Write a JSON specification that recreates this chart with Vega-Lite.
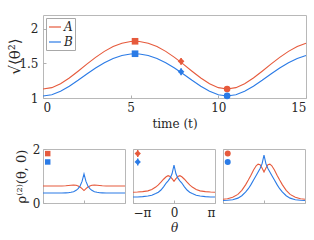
{
  "$schema": "https://vega.github.io/schema/vega-lite/v6.json",
  "background": "white",
  "padding": {"left": 6, "top": 14, "right": 1, "bottom": 2},
  "config": {
    "font": "DejaVu Serif",
    "view": {"stroke": "#b8b8b8", "strokeWidth": 1},
    "axis": {"grid": false, "domain": false, "ticks": true, "tickSize": -3, "tickColor": "#b0b0b0",
      "labelFont": "DejaVu Serif", "labelFontSize": 12, "labelColor": "#262626",
      "titleFont": "DejaVu Serif", "titleFontSize": 12, "titleColor": "#262626", "titleFontWeight": "normal"}
  },
  "datasets": {
    "curves": [
      {"t":0,"A":1.130,"B":1.030},{"t":0.5,"A":1.1498,"B":1.0474},{"t":1,"A":1.2057,"B":1.0965},
      {"t":1.5,"A":1.2884,"B":1.1694},{"t":2,"A":1.3867,"B":1.2561},{"t":2.5,"A":1.4895,"B":1.3470},
      {"t":3,"A":1.5878,"B":1.4340},{"t":3.5,"A":1.6744,"B":1.5108},{"t":4,"A":1.7438,"B":1.5723},
      {"t":4.5,"A":1.7921,"B":1.6152},{"t":5,"A":1.8169,"B":1.6372},{"t":5.25,"A":1.82,"B":1.64},
      {"t":5.5,"A":1.8169,"B":1.6372},{"t":6,"A":1.7921,"B":1.6152},{"t":6.5,"A":1.7438,"B":1.5723},
      {"t":7,"A":1.6744,"B":1.5108},{"t":7.5,"A":1.5878,"B":1.4340},{"t":8,"A":1.4895,"B":1.3470},
      {"t":8.5,"A":1.3867,"B":1.2561},{"t":9,"A":1.2884,"B":1.1694},{"t":9.5,"A":1.2057,"B":1.0965},
      {"t":10,"A":1.1498,"B":1.0474},{"t":10.5,"A":1.130,"B":1.030},{"t":11,"A":1.1498,"B":1.0474},
      {"t":11.5,"A":1.2057,"B":1.0965},{"t":12,"A":1.2884,"B":1.1694},{"t":12.5,"A":1.3867,"B":1.2561},
      {"t":13,"A":1.4895,"B":1.3470},{"t":13.5,"A":1.5878,"B":1.4340},{"t":14,"A":1.6744,"B":1.5108},
      {"t":14.5,"A":1.7438,"B":1.5723},{"t":15,"A":1.7921,"B":1.6152}
    ],
    "markers": [
      {"t":5.25,"s":"A","m":"sq","v":1.82},
      {"t":5.25,"s":"B","m":"sq","v":1.64},
      {"t":7.875,"s":"A","m":"di","v":1.53,"lo":1.48,"hi":1.58},
      {"t":7.875,"s":"B","m":"di","v":1.38,"lo":1.33,"hi":1.43},
      {"t":10.5,"s":"A","m":"ci","v":1.13},
      {"t":10.5,"s":"B","m":"ci","v":1.03}
    ],
    "prof": [
      {"p":1,"x":-3.1416,"A":0.63,"B":0.37},{"p":1,"x":-2.8,"A":0.63,"B":0.37},{"p":1,"x":-2.4,"A":0.63,"B":0.37},
      {"p":1,"x":-2.0,"A":0.63,"B":0.37},{"p":1,"x":-1.7,"A":0.632,"B":0.37},{"p":1,"x":-1.4,"A":0.638,"B":0.375},
      {"p":1,"x":-1.2,"A":0.648,"B":0.38},{"p":1,"x":-1.0,"A":0.66,"B":0.395},{"p":1,"x":-0.8,"A":0.665,"B":0.42},
      {"p":1,"x":-0.6,"A":0.655,"B":0.47},{"p":1,"x":-0.45,"A":0.63,"B":0.53},{"p":1,"x":-0.3,"A":0.59,"B":0.63},
      {"p":1,"x":-0.15,"A":0.53,"B":0.80},{"p":1,"x":0,"A":0.46,"B":1.08},
      {"p":1,"x":0.15,"A":0.53,"B":0.80},{"p":1,"x":0.3,"A":0.59,"B":0.63},{"p":1,"x":0.45,"A":0.63,"B":0.53},
      {"p":1,"x":0.6,"A":0.655,"B":0.47},{"p":1,"x":0.8,"A":0.665,"B":0.42},{"p":1,"x":1.0,"A":0.66,"B":0.395},
      {"p":1,"x":1.2,"A":0.648,"B":0.38},{"p":1,"x":1.4,"A":0.638,"B":0.375},{"p":1,"x":1.7,"A":0.632,"B":0.37},
      {"p":1,"x":2.0,"A":0.63,"B":0.37},{"p":1,"x":2.4,"A":0.63,"B":0.37},{"p":1,"x":2.8,"A":0.63,"B":0.37},
      {"p":1,"x":3.1416,"A":0.63,"B":0.37},

      {"p":2,"x":-3.1416,"A":0.40,"B":0.22},{"p":2,"x":-2.8,"A":0.405,"B":0.225},{"p":2,"x":-2.4,"A":0.42,"B":0.235},
      {"p":2,"x":-2.0,"A":0.45,"B":0.26},{"p":2,"x":-1.7,"A":0.50,"B":0.29},{"p":2,"x":-1.4,"A":0.59,"B":0.35},
      {"p":2,"x":-1.2,"A":0.67,"B":0.40},{"p":2,"x":-1.0,"A":0.77,"B":0.48},{"p":2,"x":-0.8,"A":0.88,"B":0.60},
      {"p":2,"x":-0.6,"A":0.97,"B":0.74},{"p":2,"x":-0.45,"A":1.01,"B":0.82},{"p":2,"x":-0.3,"A":0.98,"B":0.92},
      {"p":2,"x":-0.15,"A":0.90,"B":1.08},{"p":2,"x":0,"A":0.80,"B":1.40},
      {"p":2,"x":0.15,"A":0.90,"B":1.08},{"p":2,"x":0.3,"A":0.98,"B":0.92},{"p":2,"x":0.45,"A":1.01,"B":0.82},
      {"p":2,"x":0.6,"A":0.97,"B":0.74},{"p":2,"x":0.8,"A":0.88,"B":0.60},{"p":2,"x":1.0,"A":0.77,"B":0.48},
      {"p":2,"x":1.2,"A":0.67,"B":0.40},{"p":2,"x":1.4,"A":0.59,"B":0.35},{"p":2,"x":1.7,"A":0.50,"B":0.29},
      {"p":2,"x":2.0,"A":0.45,"B":0.26},{"p":2,"x":2.4,"A":0.42,"B":0.235},{"p":2,"x":2.8,"A":0.405,"B":0.225},
      {"p":2,"x":3.1416,"A":0.40,"B":0.22},

      {"p":3,"x":-3.1416,"A":0.14,"B":0.09},{"p":3,"x":-2.8,"A":0.16,"B":0.10},{"p":3,"x":-2.4,"A":0.21,"B":0.12},
      {"p":3,"x":-2.0,"A":0.32,"B":0.18},{"p":3,"x":-1.7,"A":0.47,"B":0.27},{"p":3,"x":-1.4,"A":0.68,"B":0.41},
      {"p":3,"x":-1.2,"A":0.85,"B":0.53},{"p":3,"x":-1.0,"A":1.03,"B":0.68},{"p":3,"x":-0.8,"A":1.22,"B":0.85},
      {"p":3,"x":-0.6,"A":1.38,"B":1.02},{"p":3,"x":-0.45,"A":1.44,"B":1.15},{"p":3,"x":-0.3,"A":1.42,"B":1.28},
      {"p":3,"x":-0.15,"A":1.30,"B":1.45},{"p":3,"x":0,"A":1.15,"B":1.77},
      {"p":3,"x":0.15,"A":1.30,"B":1.45},{"p":3,"x":0.3,"A":1.42,"B":1.28},{"p":3,"x":0.45,"A":1.44,"B":1.15},
      {"p":3,"x":0.6,"A":1.38,"B":1.02},{"p":3,"x":0.8,"A":1.22,"B":0.85},{"p":3,"x":1.0,"A":1.03,"B":0.68},
      {"p":3,"x":1.2,"A":0.85,"B":0.53},{"p":3,"x":1.4,"A":0.68,"B":0.41},{"p":3,"x":1.7,"A":0.47,"B":0.27},
      {"p":3,"x":2.0,"A":0.32,"B":0.18},{"p":3,"x":2.4,"A":0.21,"B":0.12},{"p":3,"x":2.8,"A":0.16,"B":0.10},
      {"p":3,"x":3.1416,"A":0.14,"B":0.09}
    ],
    "pmarks": [
      {"p":1,"m":"sq","s":"A","x":-2.78,"v":1.83},
      {"p":1,"m":"sq","s":"B","x":-2.78,"v":1.52},
      {"p":2,"m":"di","s":"A","x":-2.78,"v":1.83,"lo":1.70,"hi":1.96},
      {"p":2,"m":"di","s":"B","x":-2.78,"v":1.52,"lo":1.39,"hi":1.65},
      {"p":3,"m":"ci","s":"A","x":-2.78,"v":1.83},
      {"p":3,"m":"ci","s":"B","x":-2.78,"v":1.52}
    ]
  },
  "resolve": {"scale": {"color": "independent", "shape": "independent"}, "legend": {"color": "independent", "shape": "independent"}},
  "spacing": 12,
  "vconcat": [
    {
      "width": 263,
      "height": 83,
      "layer": [
        {
          "data": {"name": "curves"},
          "transform": [{"fold": ["A", "B"], "as": ["s", "v"]}],
          "mark": {"type": "line", "strokeWidth": 1.1},
          "encoding": {
            "x": {"field": "t", "type": "quantitative", "scale": {"domain": [0, 15], "nice": false},
              "axis": {"values": [0, 5, 10, 15], "title": "time (t)", "labelPadding": 7, "titlePadding": 5}},
            "y": {"field": "v", "type": "quantitative", "scale": {"domain": [1, 2.2], "nice": false, "zero": false},
              "axis": {"values": [1, 1.5, 2], "format": "~g", "title": "√⟨θ²⟩", "labelPadding": 8, "titleFontSize": 15,
                "titleX": -29, "titleY": 41, "titleBaseline": "middle", "titleAngle": -90}},
            "color": {"field": "s", "type": "nominal",
              "scale": {"domain": ["A", "B"], "range": ["#e65a3c", "#2b7be6"]},
              "legend": {"title": null, "orient": "top-left", "offset": 3, "padding": 2, "strokeColor": "#a8a8a8",
                "fillColor": "white", "symbolType": "stroke", "symbolSize": 144, "symbolStrokeWidth": 1.2,
                "labelOffset": 2, "rowPadding": 2, "labelFont": "DejaVu Serif", "labelFontStyle": "italic",
                "labelFontSize": 12, "labelColor": "#262626"}}
          }
        },
        {
          "data": {"name": "markers"},
          "transform": [{"filter": "isValid(datum.lo)"}],
          "mark": {"type": "rule", "strokeWidth": 1.5},
          "encoding": {
            "x": {"field": "t", "type": "quantitative"},
            "y": {"field": "lo", "type": "quantitative"},
            "y2": {"field": "hi"},
            "color": {"field": "s", "type": "nominal"}
          }
        },
        {
          "data": {"name": "markers"},
          "mark": {"type": "point", "filled": true, "opacity": 1},
          "encoding": {
            "x": {"field": "t", "type": "quantitative"},
            "y": {"field": "v", "type": "quantitative"},
            "color": {"field": "s", "type": "nominal"},
            "shape": {"field": "m", "type": "nominal", "scale": {"domain": ["sq", "di", "ci"], "range": ["square", "diamond", "circle"]}, "legend": null},
            "size": {"value": 44}
          }
        }
      ]
    },
    {
      "spacing": 8,
      "bounds": "flush",
      "resolve": {"scale": {"y": "shared", "x": "shared"}},
      "hconcat": [
        {
          "width": 82, "height": 54,
          "layer": [
            {
              "data": {"name": "prof"},
              "transform": [{"filter": "datum.p == 1"}, {"fold": ["A", "B"], "as": ["s", "v"]}],
              "mark": {"type": "line", "strokeWidth": 1.1},
              "encoding": {
                "x": {"field": "x", "type": "quantitative", "scale": {"domain": [-3.14159, 3.14159], "nice": false},
                  "axis": {"values": [-3.14159, 0, 3.14159], "labels": false, "title": null}},
                "y": {"field": "v", "type": "quantitative", "scale": {"domain": [0, 2], "nice": false},
                  "axis": {"values": [0, 1, 2], "labelPadding": 6, "title": "ρ⁽²⁾(θ, 0)", "titleFontSize": 13, "titleX": -22, "titleY": 27, "titleBaseline": "middle", "titleAngle": -90}},
                "color": {"field": "s", "type": "nominal", "scale": {"domain": ["A", "B"], "range": ["#e65a3c", "#2b7be6"]}, "legend": null}
              }
            },
            {
              "data": {"name": "pmarks"},
              "transform": [{"filter": "datum.p == 1"}],
              "mark": {"type": "point", "filled": true, "opacity": 1, "shape": "square", "size": 30},
              "encoding": {
                "x": {"field": "x", "type": "quantitative"},
                "y": {"field": "v", "type": "quantitative"},
                "color": {"field": "s", "type": "nominal", "legend": null}
              }
            }
          ]
        },
        {
          "width": 82, "height": 54,
          "layer": [
            {
              "data": {"name": "prof"},
              "transform": [{"filter": "datum.p == 2"}, {"fold": ["A", "B"], "as": ["s", "v"]}],
              "mark": {"type": "line", "strokeWidth": 1.1},
              "encoding": {
                "x": {"field": "x", "type": "quantitative", "scale": {"domain": [-3.14159, 3.14159], "nice": false},
                  "axis": {"values": [-3.14159, 0, 3.14159], "labelExpr": "datum.value < -3 ? '−π' : (datum.value > 3 ? 'π' : '0')", "labelPadding": 7, "title": "θ", "titleFontStyle": "italic", "titlePadding": 4}},
                "y": {"field": "v", "type": "quantitative", "scale": {"domain": [0, 2], "nice": false},
                  "axis": {"values": [0, 1, 2], "labels": false, "title": null}},
                "color": {"field": "s", "type": "nominal", "scale": {"domain": ["A", "B"], "range": ["#e65a3c", "#2b7be6"]}, "legend": null}
              }
            },
            {
              "data": {"name": "pmarks"},
              "transform": [{"filter": "datum.p == 2"}],
              "mark": {"type": "rule", "strokeWidth": 1.4},
              "encoding": {
                "x": {"field": "x", "type": "quantitative"},
                "y": {"field": "lo", "type": "quantitative"},
                "y2": {"field": "hi"},
                "color": {"field": "s", "type": "nominal", "legend": null}
              }
            },
            {
              "data": {"name": "pmarks"},
              "transform": [{"filter": "datum.p == 2"}],
              "mark": {"type": "point", "filled": true, "opacity": 1, "shape": "diamond", "size": 40},
              "encoding": {
                "x": {"field": "x", "type": "quantitative"},
                "y": {"field": "v", "type": "quantitative"},
                "color": {"field": "s", "type": "nominal", "legend": null}
              }
            }
          ]
        },
        {
          "width": 82, "height": 54,
          "layer": [
            {
              "data": {"name": "prof"},
              "transform": [{"filter": "datum.p == 3"}, {"fold": ["A", "B"], "as": ["s", "v"]}],
              "mark": {"type": "line", "strokeWidth": 1.1},
              "encoding": {
                "x": {"field": "x", "type": "quantitative", "scale": {"domain": [-3.14159, 3.14159], "nice": false},
                  "axis": {"values": [-3.14159, 0, 3.14159], "labels": false, "title": null}},
                "y": {"field": "v", "type": "quantitative", "scale": {"domain": [0, 2], "nice": false},
                  "axis": {"values": [0, 1, 2], "labels": false, "title": null}},
                "color": {"field": "s", "type": "nominal", "scale": {"domain": ["A", "B"], "range": ["#e65a3c", "#2b7be6"]}, "legend": null}
              }
            },
            {
              "data": {"name": "pmarks"},
              "transform": [{"filter": "datum.p == 3"}],
              "mark": {"type": "point", "filled": true, "opacity": 1, "shape": "circle", "size": 36},
              "encoding": {
                "x": {"field": "x", "type": "quantitative"},
                "y": {"field": "v", "type": "quantitative"},
                "color": {"field": "s", "type": "nominal", "legend": null}
              }
            }
          ]
        }
      ]
    }
  ]
}
